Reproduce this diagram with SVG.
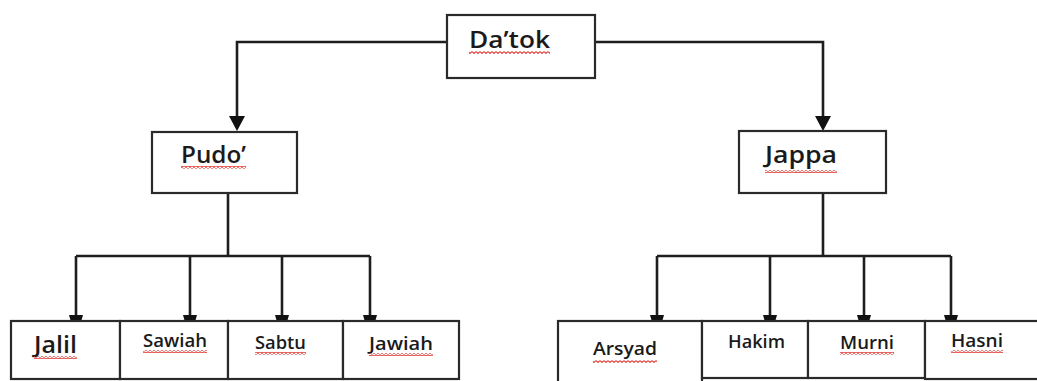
<svg xmlns="http://www.w3.org/2000/svg" width="1037" height="381" viewBox="0 0 1037 381">
<style>
.box{fill:#fff;stroke:#2a2a2a;stroke-width:2.2}
.con{fill:none;stroke:#1e1e1e;stroke-width:2.6}
.ah{fill:#111}
.t{font-family:"Open Sans","Liberation Sans",sans-serif;font-weight:600;fill:#1a1a1a}
.big{font-size:23px}
.sm{font-size:18px}
.sq{fill:url(#wave)}
</style>
<defs>
<pattern id="wave" patternUnits="userSpaceOnUse" width="4" height="3">
<path d="M0 0.6 L2 2.4 L4 0.6" fill="none" stroke="#e0302a" stroke-width="1.1"/>
</pattern>
</defs>
<g id="connectors">
<path class="con" d="M447,42 H237 V120"/>
<path class="con" d="M595,42 H823 V120"/>
<polygon class="ah" points="229,116 245,116 237,131"/>
<polygon class="ah" points="815,116 831,116 823,131"/>
<path class="con" d="M228,193 V256 M76,256 H370 M76,256 V316 M190,256 V316 M282,256 V316 M370,256 V316"/>
<path class="con" d="M823,193 V256 M657,256 H951 M657,256 V316 M770,256 V316 M864,256 V316 M951,256 V316"/>
<polygon class="ah" points="69,315 83,315 81,322 71,322"/>
<polygon class="ah" points="183,315 197,315 195,322 185,322"/>
<polygon class="ah" points="275,315 289,315 287,322 277,322"/>
<polygon class="ah" points="363,315 377,315 375,322 365,322"/>
<polygon class="ah" points="650,315 664,315 662,322 652,322"/>
<polygon class="ah" points="763,315 777,315 775,322 765,322"/>
<polygon class="ah" points="857,315 871,315 869,322 859,322"/>
<polygon class="ah" points="944,315 958,315 956,322 946,322"/>
</g>
<g id="datok">
<rect class="box" x="447" y="15" width="148" height="63"/>
<text class="t big" x="469" y="48" textLength="81" lengthAdjust="spacingAndGlyphs">Da’tok</text>
<rect class="sq" x="469" y="51" width="81" height="3"/>
</g>
<g id="pudo">
<rect class="box" x="152" y="132" width="145" height="61"/>
<text class="t big" x="181" y="163" textLength="65" lengthAdjust="spacingAndGlyphs">Pudo’</text>
<rect class="sq" x="181" y="166" width="65" height="3"/>
</g>
<g id="jappa">
<rect class="box" x="739" y="131" width="147" height="62"/>
<text class="t big" x="765" y="163" textLength="72" lengthAdjust="spacingAndGlyphs">Jappa</text>
<rect class="sq" x="765" y="170" width="72" height="3"/>
</g>
<g id="jalil">
<rect class="box" x="11" y="321" width="109" height="58"/>
<text class="t big" x="34" y="353" textLength="43" lengthAdjust="spacingAndGlyphs">Jalil</text>
<rect class="sq" x="34" y="356" width="43" height="3"/>
</g>
<g id="sawiah">
<rect class="box" x="120" y="321" width="108" height="58"/>
<text class="t sm" x="143" y="347" textLength="64" lengthAdjust="spacingAndGlyphs">Sawiah</text>
<rect class="sq" x="143" y="350" width="64" height="3"/>
</g>
<g id="sabtu">
<rect class="box" x="228" y="321" width="115" height="58"/>
<text class="t sm" x="255" y="349" textLength="51" lengthAdjust="spacingAndGlyphs">Sabtu</text>
<rect class="sq" x="255" y="352" width="51" height="3"/>
</g>
<g id="jawiah">
<rect class="box" x="343" y="321" width="116" height="58"/>
<text class="t sm" x="369" y="350" textLength="64" lengthAdjust="spacingAndGlyphs">Jawiah</text>
<rect class="sq" x="369" y="353" width="64" height="3"/>
</g>
<g id="arsyad">
<rect class="box" x="558" y="321" width="144" height="70"/>
<text class="t sm" x="593" y="355" textLength="64" lengthAdjust="spacingAndGlyphs">Arsyad</text>
<rect class="sq" x="593" y="360" width="64" height="3"/>
</g>
<g id="hakim">
<rect class="box" x="702" y="321" width="106" height="57"/>
<text class="t sm" x="728" y="348" textLength="57" lengthAdjust="spacingAndGlyphs">Hakim</text>
</g>
<g id="murni">
<rect class="box" x="808" y="321" width="117" height="57"/>
<text class="t sm" x="840" y="349" textLength="54" lengthAdjust="spacingAndGlyphs">Murni</text>
<rect class="sq" x="840" y="352" width="54" height="3"/>
</g>
<g id="hasni">
<rect class="box" x="925" y="321" width="120" height="58"/>
<text class="t sm" x="951" y="347" textLength="52" lengthAdjust="spacingAndGlyphs">Hasni</text>
<rect class="sq" x="951" y="350" width="52" height="3"/>
</g>
</svg>
